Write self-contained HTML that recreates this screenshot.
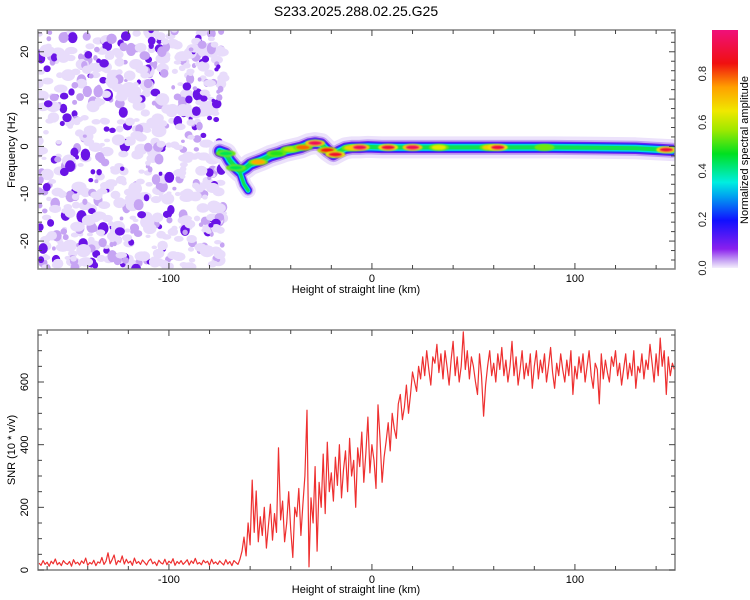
<!DOCTYPE html>
<html><head><meta charset="utf-8"><style>
body{margin:0;background:#fff;width:750px;height:600px;overflow:hidden;font-family:"Liberation Sans",sans-serif}
svg{display:block}
</style></head><body>
<svg id="c" width="750" height="600" xmlns="http://www.w3.org/2000/svg">
<defs>
<linearGradient id="cmap" x1="0" y1="1" x2="0" y2="0">
<stop offset="0" stop-color="#f4eefc"/><stop offset="0.03" stop-color="#c9a8f4"/><stop offset="0.08" stop-color="#8a20ee"/>
<stop offset="0.2" stop-color="#1010ff"/><stop offset="0.3" stop-color="#00a0f0"/><stop offset="0.36" stop-color="#00eee0"/>
<stop offset="0.48" stop-color="#00e020"/><stop offset="0.58" stop-color="#a0e800"/><stop offset="0.66" stop-color="#f0e800"/>
<stop offset="0.76" stop-color="#ffa000"/><stop offset="0.86" stop-color="#f01010"/><stop offset="1" stop-color="#f0107a"/>
</linearGradient>
<clipPath id="clipTop"><rect x="38" y="30" width="637" height="239"/></clipPath>
<clipPath id="clipBot"><rect x="38" y="330" width="637" height="240"/></clipPath>
<filter id="blur1"><feGaussianBlur stdDeviation="0.9"/></filter>
</defs>
<text x="356" y="16" font-size="14" text-anchor="middle">S233.2025.288.02.25.G25</text>
<g id="topG" clip-path="url(#clipTop)"></g>
<g id="botG" clip-path="url(#clipBot)"></g>
<g id="axes"></g>
<rect x="712" y="30" width="26" height="238" fill="url(#cmap)"/>
<g id="cbar"></g>
<text transform="translate(748,150) rotate(-90)" font-size="11" text-anchor="middle">Normalized spectral amplitude</text>
<text transform="translate(15,150) rotate(-90)" font-size="11" text-anchor="middle">Frequency (Hz)</text>
<text x="356" y="293" font-size="11" text-anchor="middle">Height of straight line (km)</text>
<text transform="translate(15,450) rotate(-90)" font-size="11" text-anchor="middle">SNR (10 * v/v)</text>
<text x="356" y="593" font-size="11" text-anchor="middle">Height of straight line (km)</text>
</svg>
<script>
// ---- data ----
const xTicks=[-100,0,100];
const freqTicks=[-20,-10,0,10,20];
const snrTicks=[0,200,400,600];
const cbarTicks=[0.0,0.2,0.4,0.6,0.8];
const ridgeHeights=[-75,-72,-70,-67,-65,-62,-60,-57,-54,-50,-46,-43,-39,-35,-31,-28,-25,-22,-19,-16,-13,-10,-6,-2,5,15,30,50,70,90,110,130,148];
const ridgeFreqs=[-1.0,-1.5,-3,-4.5,-5.3,-4.5,-3.8,-3.3,-2.8,-2.0,-1.5,-1.0,-0.6,-0.2,0.5,0.7,0.5,-0.8,-1.7,-1.0,-0.4,-0.2,-0.2,-0.1,-0.2,-0.2,-0.2,-0.2,-0.2,-0.2,-0.3,-0.4,-0.8];
const branchHeights=[-65,-63,-61];
const branchFreqs=[-5.5,-8,-9.3];
const hotHeights=[-72,-67,-56,-47,-40,-34,-28,-22,-18,-10,-6,8,20,33,58,62,85,145];
const hotFreqs=[-1.5,-4.5,-3.3,-1.5,-0.6,-0.2,0.7,-0.8,-1.7,-0.3,-0.2,-0.2,-0.2,-0.2,-0.2,-0.2,-0.2,-0.7];
const hotAmps=[0.45,0.45,0.75,0.5,0.6,0.8,0.95,0.85,0.9,0.7,0.95,0.92,0.95,0.65,0.7,0.92,0.55,0.92];
const snrStart=-164, snrStep=1;
const snrValues=[22,15,30,18,25,12,28,20,35,17,24,14,30,22,18,27,12,33,20,25,16,29,21,38,15,24,19,31,14,26,22,40,18,28,55,20,33,48,17,30,25,45,19,34,22,28,15,38,21,27,18,32,24,16,29,35,20,26,14,31,23,19,34,17,28,22,36,15,27,20,30,18,25,33,16,29,21,37,19,24,17,31,23,28,15,34,20,26,18,29,22,16,33,19,27,14,30,24,18,35,
60,105,45,150,80,287,120,252,90,170,110,200,70,140,210,95,180,120,390,160,220,90,150,250,130,40,200,170,260,110,210,300,510,10,230,150,330,60,280,200,370,180,408,250,310,220,360,270,400,230,320,380,250,420,300,350,200,390,330,440,280,370,488,310,400,350,260,527,420,280,360,410,470,380,500,450,420,530,560,480,
520,590,500,560,632,600,570,650,610,680,620,700,640,590,680,660,720,630,690,610,700,650,590,670,730,620,680,600,650,760,640,700,610,680,650,600,560,690,620,491,590,650,700,620,660,600,690,640,710,620,670,600,650,730,620,680,590,640,700,610,660,620,690,580,650,700,610,670,630,690,600,650,710,630,580,660,620,690,640,600,
670,620,700,560,650,610,680,630,690,600,650,700,620,580,660,640,530,690,610,670,630,600,680,650,700,620,660,590,640,690,610,660,620,700,580,650,630,690,610,670,640,720,660,600,690,620,740,650,700,560,680,620,660,640];
// ---- scales ----
const NS='http://www.w3.org/2000/svg';
const X0=38,X1=675,HMIN=-164.5,HMAX=149.3;
const xS=h=>X0+(h-HMIN)/(HMAX-HMIN)*(X1-X0);
const TY0=30,TY1=269,FMIN=-25.9,FMAX=24.6;
const fS=f=>TY1-(f-FMIN)/(FMAX-FMIN)*(TY1-TY0);
const BY0=330,BY1=570,SMAX=766;
const sS=v=>BY1-v/SMAX*(BY1-BY0);
const CB0=268,CB1=30,CMAX=0.98;
const cS=a=>CB0-a/CMAX*(CB0-CB1);
function mk(tag,attrs,parent){const e=document.createElementNS(NS,tag);for(const k in attrs)e.setAttribute(k,attrs[k]);parent.appendChild(e);return e;}
function cmap(a){const st=[[0,[244,238,252]],[0.03,[201,168,244]],[0.08,[138,32,238]],[0.2,[16,16,255]],[0.3,[0,160,240]],[0.36,[0,238,224]],[0.48,[0,224,32]],[0.58,[160,232,0]],[0.66,[240,232,0]],[0.76,[255,160,0]],[0.86,[240,16,16]],[1,[240,16,122]]];
 for(let i=1;i<st.length;i++){if(a<=st[i][0]){const t=(a-st[i-1][0])/(st[i][0]-st[i-1][0]);const c=st[i-1][1].map((v,j)=>Math.round(v+(st[i][1][j]-v)*t));return `rgb(${c})`;}}return 'rgb(240,16,122)';}
const topG=document.getElementById('topG'),botG=document.getElementById('botG'),axes=document.getElementById('axes');
// ---- noise texture (decorative) ----
let seed=12345;const rnd=()=>{seed=(seed*1103515245+12345)%2147483648;return seed/2147483648;};
const noise=mk('g',{},topG);


for(let i=0;i<750;i++){const x=38+rnd()*186,y=30+rnd()*240,r=rnd();const rr=1.8+rnd()*3.5;
 const col=r<0.6?'#e8dcfb':(r<0.85?'#c6a4f3':'#6a14e6');
 mk('ellipse',{cx:x,cy:y,rx:rr*(r<0.6?1.4:1),ry:rr*(0.8+rnd()*0.5),fill:col},noise);}
// ---- ridge ----
function pathOf(hs,fs){return hs.map((h,i)=>(i?'L':'M')+xS(h).toFixed(1)+','+fS(fs[i]).toFixed(1)).join(' ');}
const layers=[[22,'#ece2fb'],[15,'#c0a0f3'],[11.5,'#7420ee'],[9.5,'#2030ff'],[7,'#00d8e0'],[4,'#10e050']];
const rg=mk('g',{},topG);


for(const [w,c] of layers){
 const p=mk('path',{d:pathOf(ridgeHeights,ridgeFreqs),fill:'none',stroke:c,'stroke-width':w,'stroke-linejoin':'round','stroke-linecap':'round'},rg);
 
 
 const b=mk('path',{d:pathOf(branchHeights,branchFreqs),fill:'none',stroke:c,'stroke-width':w*0.7,'stroke-linejoin':'round','stroke-linecap':'round'},rg);
 
 
}
hotHeights.forEach((h,i)=>{const a=hotAmps[i];const cx=xS(h),cy=fS(hotFreqs[i]);
 const g=mk('g',{filter:'url(#blur1)'},rg);
 
 
 mk('ellipse',{cx:cx,cy:cy,rx:10,ry:3.5,fill:cmap(Math.max(0.55,a-0.25))},g);
 mk('ellipse',{cx:cx,cy:cy,rx:7,ry:2.4,fill:cmap(a)},g);});
// ---- SNR line ----
const pts=snrValues.map((v,i)=>xS(snrStart+i*snrStep).toFixed(1)+','+sS(v).toFixed(1)).join(' ');
const line=mk('polyline',{points:pts,fill:'none',stroke:'#ee3030','stroke-width':1.2,'stroke-linejoin':'round'},botG);


// ---- axes ----
function frame(y0,y1,yTicksMinor,yTicksMajor,yScale,name){
 const r=mk('rect',{x:X0,y:y0,width:X1-X0,height:y1-y0,fill:'none',stroke:'#808080','stroke-width':1.5},axes);
 
 
 for(let h=-160;h<=140;h+=20){const x=xS(h);const L=(h%100===0)?6:4;
  mk('line',{x1:x,x2:x,y1:y0,y2:y0+L,stroke:'#444','stroke-width':1},axes);
  mk('line',{x1:x,x2:x,y1:y1,y2:y1-L,stroke:'#444','stroke-width':1},axes);}
 yTicksMinor.forEach(v=>{const y=yScale(v);const L=yTicksMajor.includes(v)?6:4;
  mk('line',{x1:X0,x2:X0+L,y1:y,y2:y,stroke:'#444','stroke-width':1},axes);
  mk('line',{x1:X1,x2:X1-L,y1:y,y2:y,stroke:'#444','stroke-width':1},axes);});
 xTicks.forEach(h=>{const t=mk('text',{x:xS(h),y:y1+13,'font-size':11,'text-anchor':'middle'},axes);t.textContent=h;
  
  });
 yTicksMajor.forEach(v=>{const t=mk('text',{transform:`translate(${X0-10},${yScale(v)}) rotate(-90)`,'font-size':11,'text-anchor':'middle'},axes);t.textContent=v;
  
  });
}
const fMinor=[];for(let f=-24;f<=24;f+=2)fMinor.push(f);
const sMinor=[];for(let v=0;v<=750;v+=50)sMinor.push(v);
frame(TY0,TY1,fMinor,freqTicks,fS,'top');
frame(BY0,BY1,sMinor,snrTicks,sS,'bottom');
const cb=document.getElementById('cbar');
cbarTicks.forEach(a=>{const t=mk('text',{transform:`translate(706,${cS(a)}) rotate(-90)`,'font-size':11,'text-anchor':'middle',fill:'#222'},cb);t.textContent=a.toFixed(1);
 
 });
</script>
</body></html>
